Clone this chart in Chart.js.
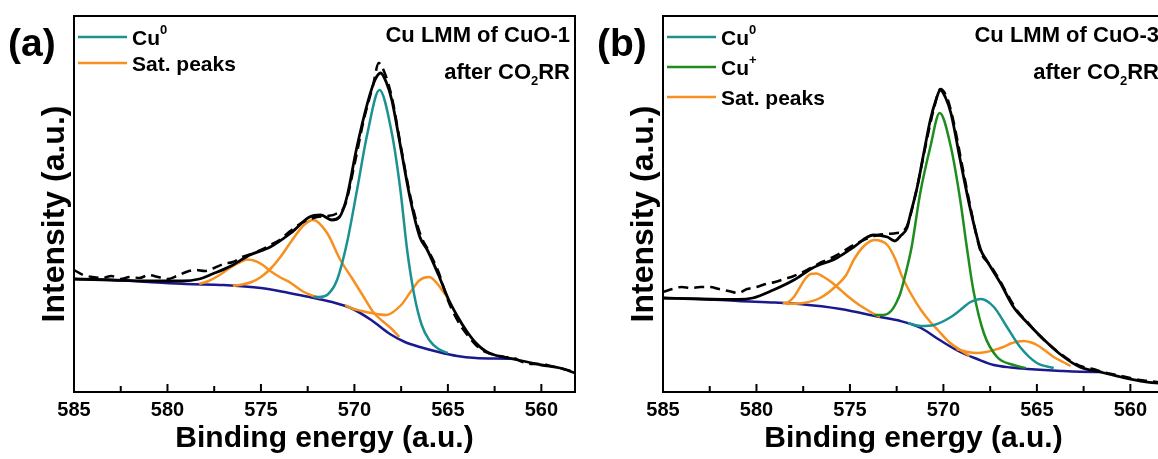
<!DOCTYPE html>
<html>
<head>
<meta charset="utf-8">
<script src="https://cdn.jsdelivr.net/npm/chart.js@4.4.0/dist/chart.umd.min.js"></script>
<style>
  html, body { margin: 0; padding: 0; background: #fff; overflow: hidden; width: 1158px; height: 459px; }
  .panel { position: absolute; top: 0; }
</style>
</head>
<body>
<div class="panel" style="left:0"><canvas id="chartA" width="589" height="459"></canvas></div>
<div class="panel" style="left:589px"><canvas id="chartB" width="589" height="459"></canvas></div>
<script>
// x range (binding energy, reversed axis)
const energyMin = 558.2;
const energyMax = 585;
const tickStep = 2.5;
const xTitle = "Binding energy (a.u.)";
const yTitle = "Intensity (a.u.)";

// ---- panel (a): Cu LMM of CuO-1 ----
const rawA = [[585,122],[584.5,117],[584,115],[583.5,114],[583,116],[582.5,113],[582,115],[581.5,114],[581,117],[580.5,115],[580,113],[579.5,116],[579,120],[578.5,122],[578,121],[577.5,124],[577,128],[576.5,130],[576,135],[575.5,138],[575,142],[574.5,147],[574,152],[573.5,160],[573,167],[572.5,172],[572,175],[571.5,176],[571,178],[570.5,187],[570,227],[569.5,272],[569,307],[568.7,329],[568.4,320],[568,295],[567.5,244],[567,195],[566.5,159],[566,140],[565.5,120],[565,92],[564.5,72],[564,58],[563.5,47],[563,40],[562.5,37],[562,35],[561.5,34],[561,30],[560.5,28],[560,28],[559.5,26],[559,24],[558.2,20]];
const fitA = [[585,113],[583,112],[581,111],[579.2,111],[578.3,113],[577.6,118],[576.6,126],[575.6,137],[574.5,145],[573.4,159],[572.4,175],[571.8,177],[571.2,172],[570.8,175],[570.4,195],[569.9,242],[569.3,289],[568.9,312],[568.6,319],[568.3,310],[568,292],[567.5,242],[567,192],[566.5,155],[566.1,142],[565.5,117],[565,94],[564.5,76],[564,61],[563.5,49],[563,41],[562.5,37],[562,35],[561.5,33],[561,31],[560.5,29],[560,27],[559,24],[558.2,19]];
const cu0A = [[572.2,95],[571.9,95],[571.4,98],[570.93,112],[570.4,149],[569.86,202],[569.3,259],[568.66,302],[568,259],[567.54,202],[567.18,142],[566.8,97],[566.4,67],[566,52],[565.5,43],[565,39]];
const satA1 = [[578.3,108],[577.8,111],[577.3,116],[576.9,121],[576.5,126],[576.1,130],[575.75,132.5],[575.3,131],[574.9,127],[574.5,121],[574,115],[573.4,109],[572.8,101],[572.2,96],[571.8,94]];
const satA2 = [[576.5,106],[576,107.5],[575.5,110],[575,115],[574.5,123],[574,134],[573.4,150],[572.7,167],[572.2,172],[571.46,159],[570.75,132],[570.1,113],[569.5,95],[569,80],[568.5,71],[568,63],[567.6,55]];
const satA3 = [[570.5,87],[570.2,84],[569.6,81],[569.1,79],[568.3,77],[567.5,87],[567,100],[566.5,112],[566,115],[565.6,109],[565.2,99],[565,94]];
const baseA = [[585,113],[583,112],[581,110],[579,108],[577,107],[575,104],[573.5,99],[572.4,95],[571.2,90],[570.2,84],[569.1,72],[568.1,58],[567.3,50],[566.5,45],[565.5,40],[564.5,36],[563.5,34],[562.5,33.5],[561.3,33]];

// ---- panel (b): Cu LMM of CuO-3 ----
const rawB = [[585,100],[584.5,103],[584,105],[583.5,104],[583,105],[582.5,105],[582,103],[581.5,101],[581,99],[580.5,103],[580,105],[579.5,108],[579,110],[578.5,113],[578,116],[577.5,120],[577,125],[576.5,130],[576,134],[575.5,139],[575,145],[574.5,150],[574,154],[573.5,157],[573,158],[572.5,159],[572,164],[571.5,197],[571,242],[570.5,284],[570.16,303],[569.8,294],[569.5,274],[569,227],[568.5,180],[568,140],[567.5,127],[567,112],[566.5,95],[566,80],[565.5,70],[565,59],[564.5,50],[564,42],[563.5,35],[563,29],[562.5,25],[562,23],[561.5,20],[561,18],[560.5,16],[560,14],[559.5,12],[559,11],[558.2,9]];
const fitB = [[585,94],[583,93],[581,92.5],[580.2,94],[579.1,102],[578,112],[577,124],[575.7,134],[574.8,145],[573.75,157],[573,155],[572.6,151],[572.3,156],[571.95,164],[571.8,175],[571.4,205],[571.05,239],[570.7,272],[570.4,292],[570.16,302],[569.9,295],[569.6,279],[569.1,232],[568.55,182],[568,142],[567.7,132],[566.95,109],[566.25,85],[565.5,69],[564.6,52],[563.7,37],[562.7,25],[561.6,20],[560.5,15],[559.45,11],[558.5,9],[558.2,9]];
const cu0B = [[571.9,69],[571.2,66],[570.5,67],[569.6,75],[569.1,82],[568.55,90],[568,93],[567.3,85],[566.6,65],[565.9,45],[565,29],[564.1,24]];
const cu1B = [[573.7,77],[573.2,77],[572.8,81],[572.5,90],[572.3,99],[572,120],[571.7,145],[571.24,199],[570.7,245],[570.2,279],[569.6,245],[569.1,192],[568.75,145],[568.4,102],[567.84,59],[567.13,35],[566.24,27],[565.6,24]];
const satB1 = [[578.6,88.5],[578.3,90],[578,95],[577.7,104],[577.4,113],[577.1,118],[576.8,118.5],[576.4,115],[576,110],[575.5,102],[575,94],[574.5,87],[573.8,79],[573.4,75]];
const satB2 = [[578.4,88],[577.5,89],[576.6,94],[575.8,105],[575.2,117],[574.8,132],[574.3,145],[573.7,152],[573,147],[572.6,134],[572.2,115],[571.7,97],[571.2,82],[570.7,70],[570.3,62],[569.7,50],[569.1,42],[568.6,36]];
const satB3 = [[569.3,43],[568.7,40],[568.2,39],[567.7,40],[567.3,42],[566.8,45],[566.4,48.5],[566,50.5],[565.7,51],[565.3,49.5],[565,47],[564.6,42],[564.1,35],[563.6,30],[563.2,26]];
const baseB = [[585,94],[583,93],[581,91],[579,89.5],[577.7,88],[575.5,83],[573.4,75],[572.3,71],[571.2,64],[570.2,52],[569.1,40],[568.2,33],[567.3,27],[566.4,24.5],[565.5,23],[563.7,21],[562,20],[561.5,20]];

const FONT = '"Liberation Sans", Arial, Helvetica, sans-serif';
const C_TEAL = "#1b9191";
const C_GREEN = "#1f8c1f";
const C_ORANGE = "#f7901e";
const C_NAVY = "#1a1a8e";

function toPoints(pairs) {
  return pairs.map(([x, y]) => ({ x, y }));
}

function curve(label, pairs, color, width, dash) {
  return {
    label,
    data: toPoints(pairs),
    borderColor: color,
    borderWidth: width,
    borderDash: dash || [],
    pointRadius: 0,
    fill: false,
    cubicInterpolationMode: "monotone",
  };
}

// text pieces: [text, size, dy] so superscripts/subscripts stay real text
function drawParts(ctx, parts, x, y, align) {
  let w = 0;
  parts.forEach(([t, s]) => {
    ctx.font = `bold ${s}px ${FONT}`;
    w += ctx.measureText(t).width;
  });
  let cx = align === "right" ? x - w : x;
  ctx.textAlign = "left";
  ctx.textBaseline = "middle";
  parts.forEach(([t, s, dy]) => {
    ctx.font = `bold ${s}px ${FONT}`;
    ctx.fillText(t, cx, y + (dy || 0));
    cx += ctx.measureText(t).width;
  });
}

const decorPlugin = {
  id: "decor",
  afterDraw(chart, args, opts) {
    const ctx = chart.ctx;
    const { left, right, top, bottom } = chart.chartArea;
    const xs = chart.scales.x;
    ctx.save();
    ctx.fillStyle = "#000";
    ctx.strokeStyle = "#000";

    // frame
    ctx.lineWidth = 2;
    ctx.strokeRect(left, top, right - left, bottom - top);

    // inward tick marks
    xs.ticks.forEach((t) => {
      const px = xs.getPixelForValue(t.value);
      const len = t.value % 5 === 0 ? 8 : 6;
      ctx.beginPath();
      ctx.moveTo(px, bottom);
      ctx.lineTo(px, bottom - len);
      ctx.stroke();
    });

    // y title
    ctx.save();
    ctx.translate(left - 19, 214);
    ctx.rotate(-Math.PI / 2);
    ctx.font = `bold 32px ${FONT}`;
    ctx.textAlign = "center";
    ctx.textBaseline = "middle";
    ctx.fillText(yTitle, 0, 0);
    ctx.restore();

    // panel letter
    ctx.font = `bold 39px ${FONT}`;
    ctx.textAlign = "left";
    ctx.textBaseline = "middle";
    ctx.fillText(opts.letter, 8, 45);

    // legend
    opts.legend.forEach((item, i) => {
      const y = opts.legendY[i];
      ctx.strokeStyle = item.color;
      ctx.lineWidth = 2.5;
      ctx.beginPath();
      ctx.moveTo(left + 4, y);
      ctx.lineTo(left + 53, y);
      ctx.stroke();
      ctx.fillStyle = "#000";
      drawParts(ctx, item.parts, left + 58, y + 2);
    });

    // sample note, top right
    drawParts(ctx, opts.note1, right - 5, 36, "right");
    drawParts(ctx, opts.note2, right - 5, 73, "right");
    ctx.restore();
  },
};

function makeChart(id, datasets, decor) {
  return new Chart(document.getElementById(id), {
    type: "line",
    data: { datasets },
    plugins: [decorPlugin],
    options: {
      responsive: false,
      animation: false,
      devicePixelRatio: 1,
      layout: { padding: { left: 74, top: 16, right: 14, bottom: 4 } },
      scales: {
        x: {
          type: "linear",
          reverse: true,
          min: energyMin,
          max: energyMax,
          grid: { display: false, drawTicks: false },
          border: { display: false },
          afterFit: (scale) => {
            scale.height = 63;
          },
          ticks: {
            stepSize: tickStep,
            includeBounds: false,
            autoSkip: false,
            maxRotation: 0,
            padding: 6,
            color: "#000",
            font: { family: FONT, size: 20, weight: "bold" },
            callback: (v) => (v % 5 === 0 ? String(v) : ""),
          },
          title: {
            display: true,
            text: xTitle,
            color: "#000",
            padding: 0,
            font: { family: FONT, size: 30, weight: "bold", lineHeight: 1.1 },
          },
        },
        y: { display: false, min: 0, max: 376 },
      },
      plugins: {
        legend: { display: false },
        tooltip: { enabled: false },
        decor,
      },
    },
  });
}

makeChart(
  "chartA",
  [
    curve("Fit", fitA, "#000", 2.8),
    curve("Raw", rawA, "#000", 2.5, [10, 6]),
    curve("Cu0", cu0A, C_TEAL, 2.5),
    curve("Sat. 1", satA1, C_ORANGE, 2.5),
    curve("Sat. 2", satA2, C_ORANGE, 2.5),
    curve("Sat. 3", satA3, C_ORANGE, 2.5),
    curve("Background", baseA, C_NAVY, 2.5),
  ],
  {
    letter: "(a)",
    legendY: [37, 63],
    legend: [
      { color: C_TEAL, parts: [["Cu", 21], ["0", 13, -9]] },
      { color: C_ORANGE, parts: [["Sat. peaks", 21]] },
    ],
    note1: [["Cu LMM of CuO-1", 22]],
    note2: [["after CO", 22], ["2", 13, 8], ["RR", 22]],
  }
);

makeChart(
  "chartB",
  [
    curve("Fit", fitB, "#000", 2.8),
    curve("Raw", rawB, "#000", 2.5, [10, 6]),
    curve("Cu0", cu0B, C_TEAL, 2.5),
    curve("Cu+", cu1B, C_GREEN, 2.5),
    curve("Sat. 1", satB1, C_ORANGE, 2.5),
    curve("Sat. 2", satB2, C_ORANGE, 2.5),
    curve("Sat. 3", satB3, C_ORANGE, 2.5),
    curve("Background", baseB, C_NAVY, 2.5),
  ],
  {
    letter: "(b)",
    legendY: [37, 67, 97],
    legend: [
      { color: C_TEAL, parts: [["Cu", 21], ["0", 13, -9]] },
      { color: C_GREEN, parts: [["Cu", 21], ["+", 13, -9]] },
      { color: C_ORANGE, parts: [["Sat. peaks", 21]] },
    ],
    note1: [["Cu LMM of CuO-3", 22]],
    note2: [["after CO", 22], ["2", 13, 8], ["RR", 22]],
  }
);
</script>
</body>
</html>
